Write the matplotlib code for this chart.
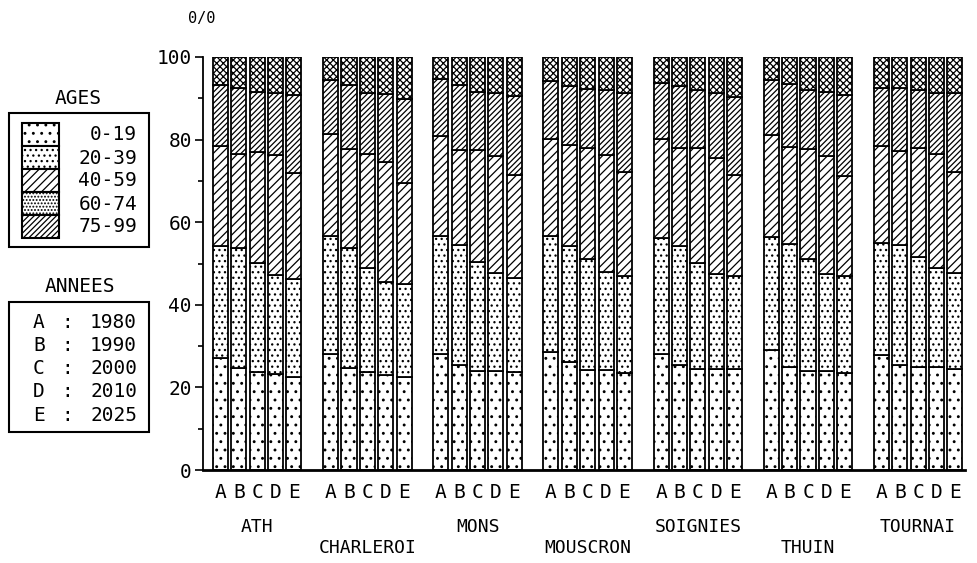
import matplotlib
matplotlib.use('Agg')
import matplotlib.pyplot as plt
import numpy as np
from matplotlib.patches import Rectangle

# Cities and projection years
cities = ['ATH', 'CHARLEROI', 'MONS', 'MOUSCRON', 'SOIGNIES', 'THUIN', 'TOURNAI']
year_codes = ['A', 'B', 'C', 'D', 'E']
years = ['1980', '1990', '2000', '2010', '2025']
age_groups = ['0-19', '20-39', '40-59', '60-74', '75-99']

# Share of each age group (%), one row per city, columns A..E
age_0_19 = [
    [27.0, 24.6, 23.8, 23.2, 22.6],
    [28.2, 24.6, 23.8, 23.0, 22.6],
    [28.2, 25.4, 24.0, 24.0, 23.8],
    [28.6, 26.2, 24.2, 24.2, 23.4],
    [28.2, 25.4, 24.4, 24.4, 24.4],
    [29.0, 25.0, 24.0, 24.0, 23.6],
    [27.8, 25.4, 25.0, 25.0, 24.4],
]
age_20_39 = [
    [27.2, 29.2, 26.4, 24.0, 23.6],
    [28.4, 29.2, 25.2, 22.6, 22.4],
    [28.4, 29.2, 26.4, 23.6, 22.8],
    [28.0, 28.0, 27.0, 23.8, 23.6],
    [28.0, 28.8, 25.8, 23.0, 22.6],
    [27.4, 29.8, 27.2, 23.4, 23.4],
    [27.2, 29.0, 26.6, 23.8, 23.4],
]
age_40_59 = [
    [24.2, 22.8, 26.8, 29.0, 25.8],
    [24.8, 24.0, 27.4, 29.0, 24.4],
    [24.2, 22.8, 27.0, 28.4, 24.8],
    [23.6, 24.4, 26.8, 28.2, 25.2],
    [24.0, 23.8, 27.8, 28.2, 24.4],
    [24.6, 23.4, 26.6, 28.6, 24.2],
    [23.4, 22.8, 26.4, 27.6, 24.4],
]
age_60_74 = [
    [14.8, 15.8, 14.6, 15.2, 18.8],
    [13.0, 15.4, 15.0, 16.4, 20.4],
    [13.8, 15.8, 14.2, 15.2, 19.2],
    [14.0, 14.4, 14.2, 15.8, 19.0],
    [13.4, 15.0, 14.0, 15.6, 19.0],
    [13.4, 15.2, 14.2, 15.6, 19.6],
    [14.0, 15.2, 14.0, 15.0, 19.0],
]
age_75_99 = [
    [6.8, 7.6, 8.4, 8.6, 9.2],
    [5.6, 6.8, 8.6, 9.0, 10.2],
    [5.4, 6.8, 8.4, 8.8, 9.4],
    [5.8, 7.0, 7.8, 8.0, 8.8],
    [6.4, 7.0, 8.0, 8.8, 9.6],
    [5.6, 6.6, 8.0, 8.4, 9.2],
    [7.6, 7.6, 8.0, 8.6, 8.8],
]

# hatches used in the bars, and the (different) ones drawn in the legend box
bar_hatches = ['..', '...', '////', '//////', 'xxxxx']
legend_hatches = ['..', '...', '////', '.....', '//////']

FONT = 'DejaVu Sans Mono'


def main():
    plt.rcParams['font.family'] = FONT
    plt.rcParams['hatch.linewidth'] = 0.9

    fig = plt.figure(figsize=(9.77, 5.63), dpi=100)
    W, H = 977, 563
    ax = fig.add_axes([203 / W, 1 - 470 / H, 762 / W, 413 / H])

    series = [age_0_19, age_20_39, age_40_59, age_60_74, age_75_99]
    n_years = len(year_codes)
    group_step = n_years + 1
    positions = []
    for g in range(len(cities)):
        positions.extend([g * group_step + i for i in range(n_years)])
    positions = np.array(positions)

    bottom = np.zeros(len(positions))
    for values, hatch in zip(series, bar_hatches):
        vals = np.array(values).flatten()
        ax.bar(positions, vals, bottom=bottom, width=0.82, color='white',
               edgecolor='black', linewidth=1.3, hatch=hatch)
        bottom += vals

    ax.set_xlim(-0.95, positions[-1] + 0.55)
    ax.set_ylim(0, 100)
    ax.spines['top'].set_visible(False)
    ax.spines['right'].set_visible(False)
    ax.spines['left'].set_linewidth(1.3)
    ax.spines['bottom'].set_linewidth(2.0)

    ax.set_yticks(np.arange(0, 101, 20))
    ax.set_yticks(np.arange(10, 100, 20), minor=True)
    ax.tick_params(axis='y', which='major', length=6, width=1.2,
                   labelsize=14, pad=2)
    ax.tick_params(axis='y', which='minor', length=3.5, width=1.2)

    ax.set_xticks(positions)
    ax.set_xticklabels(year_codes * len(cities))
    ax.tick_params(axis='x', length=0, labelsize=14, pad=9)

    # City names, staggered on two rows
    for g, city in enumerate(cities):
        center = g * group_step + (n_years - 1) / 2
        offset = -41 if g % 2 == 0 else -56
        ax.annotate(city, xy=(center, 0), xycoords=('data', 'axes fraction'),
                    xytext=(0, offset), textcoords='offset points',
                    ha='center', va='center', fontsize=13)

    fig.text(202 / W, 1 - 18 / H, '0/0', ha='center', va='center', fontsize=11)

    # Legend boxes drawn in pixel coordinates
    lg = fig.add_axes([0, 0, 1, 1], zorder=-1)
    lg.set_xlim(0, W)
    lg.set_ylim(H, 0)
    lg.axis('off')

    lg.text(78, 98, 'AGES', ha='center', va='center', fontsize=14)
    lg.add_patch(Rectangle((9, 113), 140, 134, fill=False, linewidth=1.5))
    for i, (label, hatch) in enumerate(zip(age_groups, legend_hatches)):
        top = 123 + i * 23
        lg.add_patch(Rectangle((22, top), 37, 23, facecolor='white',
                               edgecolor='black', linewidth=1.5, hatch=hatch))
        lg.text(137, top + 12, label, ha='right', va='center', fontsize=14)

    lg.text(80, 287, 'ANNEES', ha='center', va='center', fontsize=14)
    lg.add_patch(Rectangle((9, 302), 140, 130, fill=False, linewidth=1.5))
    for i, (code, year) in enumerate(zip(year_codes, years)):
        y = 322 + i * 23.3
        lg.text(39, y, code, ha='center', va='center', fontsize=14)
        lg.text(67, y, ':', ha='center', va='center', fontsize=14)
        lg.text(137, y, year, ha='right', va='center', fontsize=14)

    fig.savefig('out.png', dpi=100, facecolor='white')


if __name__ == "__main__":
    main()
